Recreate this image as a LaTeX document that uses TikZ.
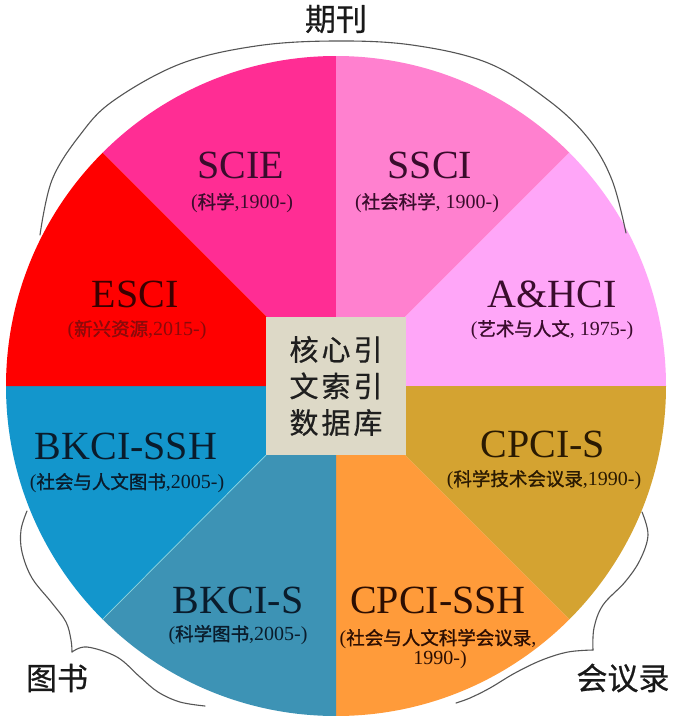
\documentclass[tikz,border=0pt]{standalone}
\usepackage{fontspec}
\setmainfont{Liberation Serif}
\newfontfamily\cjk{Noto Sans CJK SC}
\newfontfamily\cjkb[FakeBold=1.2]{Noto Sans CJK SC}
\newfontfamily\cjkm[FakeBold=0.6]{Noto Sans CJK SC}
\newcommand{\zh}[1]{{\cjkb\fontsize{18.5}{22}\selectfont #1}}
\definecolor{cSCIE}{HTML}{FF2D94}
\definecolor{cSSCI}{HTML}{FF80CF}
\definecolor{cAHCI}{HTML}{FFA6F8}
\definecolor{cCPCIS}{HTML}{D4A331}
\definecolor{cCPCISSH}{HTML}{FF9B3A}
\definecolor{cBKCIS}{HTML}{3D93B5}
\definecolor{cBKCISSH}{HTML}{1396CC}
\definecolor{cESCI}{HTML}{FF0000}
\definecolor{cBox}{HTML}{DDD9C7}
\definecolor{tPink}{HTML}{3A0C2C}
\definecolor{tRed}{HTML}{3A0000}
\definecolor{tRedSub}{HTML}{8A0A0A}
\definecolor{tBlue}{HTML}{0A1C2C}
\definecolor{tGold}{HTML}{2A1A02}
\definecolor{tOrange}{HTML}{2C0E02}
\definecolor{brkc}{HTML}{555555}
\definecolor{seam}{HTML}{8FD3DC}
\begin{document}
\begin{tikzpicture}[x=1pt,y=-1pt,
  title/.style={font=\fontsize{40}{44}\selectfont, inner sep=0pt},
  sub/.style={font=\fontsize{20}{24}\selectfont, inner sep=0pt, align=center},
  brk/.style={draw=brkc, line width=1.1pt, line cap=round},
  grp/.style={font=\cjkm\fontsize{31}{34}\selectfont, inner sep=0pt, text=black!90}]
\useasboundingbox (0,0) rectangle (675,716);
\fill[white] (0,0) rectangle (675,716);
\coordinate (C) at (336,386);
\coordinate (LL) at (102.7,619.3);
\begin{scope}
  \clip (C) circle [radius=330pt];
  \fill[cSCIE]    (C) -- (336,-100) -- (-150,-100) -- cycle;
  \fill[cSSCI]    (C) -- (336,-100) -- (822,-100) -- cycle;
  \fill[cAHCI]    (C) -- (822,-100) -- (822,386) -- cycle;
  \fill[cCPCIS]   (C) -- (822,386) -- (822,872) -- cycle;
  \fill[cCPCISSH] (C) -- (822,872) -- (336,872) -- cycle;
  \fill[cBKCIS]   (C) -- (336,872) -- (-150,872) -- cycle;
  \fill[cBKCISSH] (C) -- (-150,872) -- (-150,386) -- cycle;
  \fill[cESCI]    (C) -- (-150,386) -- (-150,-100) -- cycle;
\end{scope}
\node (box) at (C) [fill=cBox, minimum width=140pt, minimum height=138pt, inner sep=0pt] {};
\draw[seam, line width=0.7pt] (box.south west) -- (LL);
\node (core) at (336,386) [font=\cjkm\fontsize{29}{36.5}\selectfont, align=center, text=black!88, inner sep=0pt]
  {核\kern3pt 心\kern3pt 引\\文\kern3pt 索\kern3pt 引\\数\kern3pt 据\kern3pt 库};
% labels
\node[title, text=tPink] (scie) at (241,165) {SCIE};
\node[sub, text=tPink] (sciesub) at (242,203) {(\zh{科学},1900-)};
\node[title, text=tPink] (ssci) at (430,165) {SSCI};
\node[sub, text=tPink] (sscisub) at (427,203) {(\zh{社会科学}, 1900-)};
\node[title, text=tRed] (esci) at (135,294) {ESCI};
\node[sub, text=tRedSub] (escisub) at (137,330) {(\zh{新兴资源},2015-)};
\node[title, text=tPink] (ahci) at (552,294) {A\&HCI};
\node[sub, text=tPink] (ahcisub) at (552,330) {(\zh{艺术与人文}, 1975-)};
\node[title, text=tBlue] (bkcissh) at (126,446) {BKCI-SSH};
\node[sub, text=tBlue] (bkcisshsub) at (127,483) {(\zh{社会与人文图书},2005-)};
\node[title, text=tGold] (cpcis) at (543,444) {CPCI-S};
\node[sub, text=tGold] (cpcissub) at (544,480) {(\zh{科学技术会议录},1990-)};
\node[title, text=tBlue] (bkcis) at (238,600) {BKCI-S};
\node[sub, text=tBlue] (bkcissub) at (238,635) {(\zh{科学图书},2005-)};
\node[title, text=tOrange] (cpcissh) at (438,600) {CPCI-SSH};
\node[sub, text=tOrange] (cpcisshsub1) at (438,639) {(\zh{社会与人文科学会议录},};
\node[sub, text=tOrange] (cpcisshsub2) at (440,660) {1990-)};
% group labels
\node[grp] (qikan) at (336,19) {期刊};
\node[grp] (tushu) at (57,678) {图书};
\node[grp] (huiyi) at (623,678) {会议录};
% brackets
\draw[brk] plot[smooth, tension=0.6] coordinates {(40,235) (52,180) (80,135) (113,101) (180,64) (256,46) (334,41) (412,45) (488,63) (548,100) (588,138) (612,180) (626,233)};
\draw[brk] plot[smooth, tension=0.6] coordinates {(27,511) (21,530) (22,552) (32,578) (52,603) (66,622) (71,640) (72,652)};
\draw[brk] plot[smooth, tension=0.6] coordinates {(72,652) (87,647) (117,657) (140,677) (158,692) (180,702) (205,706)};
\draw[brk] plot[smooth, tension=0.6] coordinates {(642,512) (648,535) (640,560) (625,582) (603,605) (594,628) (593,650)};
\draw[brk] plot[smooth, tension=0.6] coordinates {(593,650) (568,652) (542,660) (515,673) (490,688) (470,698) (456,703)};
\end{tikzpicture}
\end{document}
